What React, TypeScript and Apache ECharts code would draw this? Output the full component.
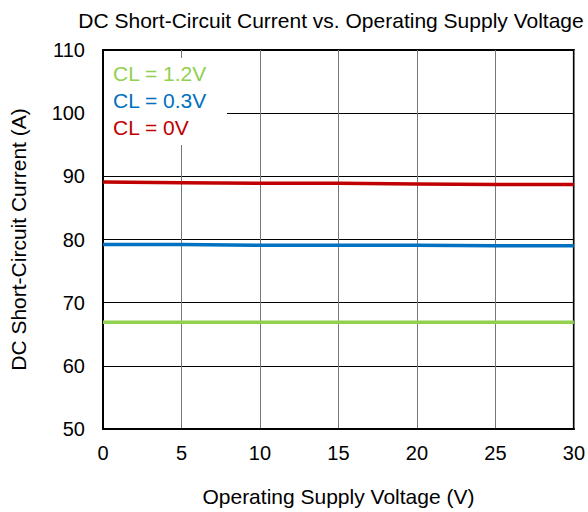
import React, { useEffect, useRef } from "react";
import * as echarts from "echarts";

const voltages = [0, 5, 10, 15, 20, 25, 30];
const cl12 = [66.9, 66.9, 66.9, 66.9, 66.9, 66.9, 66.9];
const cl03 = [79.2, 79.2, 79.1, 79.1, 79.1, 79.0, 79.0];
const cl0 = [89.1, 89.0, 88.9, 88.9, 88.8, 88.7, 88.7];
const seriesNames = ["CL = 1.2V", "CL = 0.3V", "CL = 0V"];
const seriesColors = ["#92d050", "#0070c0", "#c00000"];

const FONT = "'Liberation Sans', Arial, sans-serif";

export default function App() {
  const ref = useRef<HTMLDivElement>(null);
  useEffect(() => {
    if (!ref.current) return;
    const chart = echarts.init(ref.current, null, { renderer: "svg" });
    const datas = [cl12, cl03, cl0];
    chart.setOption({
      animation: false,
      backgroundColor: "#ffffff",
      textStyle: { fontFamily: FONT },
      title: {
        text: "DC Short-Circuit Current vs. Operating Supply Voltage",
        left: 326,
        textAlign: "center",
        top: 5,
        textStyle: { fontFamily: FONT, fontSize: 21, fontWeight: "normal", color: "#000" },
      },
      legend: {
        orient: "vertical",
        left: 104,
        top: 58,
        icon: "none",
        itemWidth: 0,
        itemHeight: 16,
        itemGap: 6,
        padding: [5, 20, 7, 4],
        backgroundColor: "#ffffff",
        selectedMode: false,
        data: seriesNames.map((n, i) => ({
          name: n,
          textStyle: { color: seriesColors[i], fontSize: 21, fontFamily: FONT },
        })),
      },
      grid: {
        left: 100,
        right: 14,
        top: 50,
        bottom: 82,
        show: true,
        borderColor: "#000",
        borderWidth: 2,
        backgroundColor: "transparent",
      },
      xAxis: {
        type: "value",
        min: 0,
        max: 30,
        interval: 5,
        name: "Operating Supply Voltage (V)",
        nameLocation: "middle",
        nameGap: 57,
        nameTextStyle: { fontFamily: FONT, fontSize: 21, color: "#000" },
        axisLine: { show: true, lineStyle: { color: "#000", width: 2 } },
        axisTick: { show: false },
        axisLabel: { fontFamily: FONT, fontSize: 20, color: "#000", margin: 14 },
        splitLine: { show: true, lineStyle: { color: "#777", width: 1 } },
      },
      yAxis: {
        type: "value",
        min: 50,
        max: 110,
        interval: 10,
        name: "DC Short-Circuit Current (A)",
        nameLocation: "middle",
        nameGap: 74,
        nameTextStyle: { fontFamily: FONT, fontSize: 21, color: "#000" },
        axisLine: { show: true, lineStyle: { color: "#000", width: 2 } },
        axisTick: { show: false },
        axisLabel: { fontFamily: FONT, fontSize: 20, color: "#000", margin: 18 },
        splitLine: { show: true, lineStyle: { color: "#000", width: 1 } },
      },
      series: datas.map((d, i) => ({
        name: seriesNames[i],
        type: "line",
        data: voltages.map((v, j) => [v, d[j]]),
        showSymbol: false,
        symbol: "none",
        lineStyle: { color: seriesColors[i], width: 3.5 },
        itemStyle: { color: seriesColors[i] },
        z: 5,
      })),
    });
    return () => chart.dispose();
  }, []);
  return <div ref={ref} style={{ width: 588, height: 512, position: "absolute", left: 0, top: 0 }} />;
}
